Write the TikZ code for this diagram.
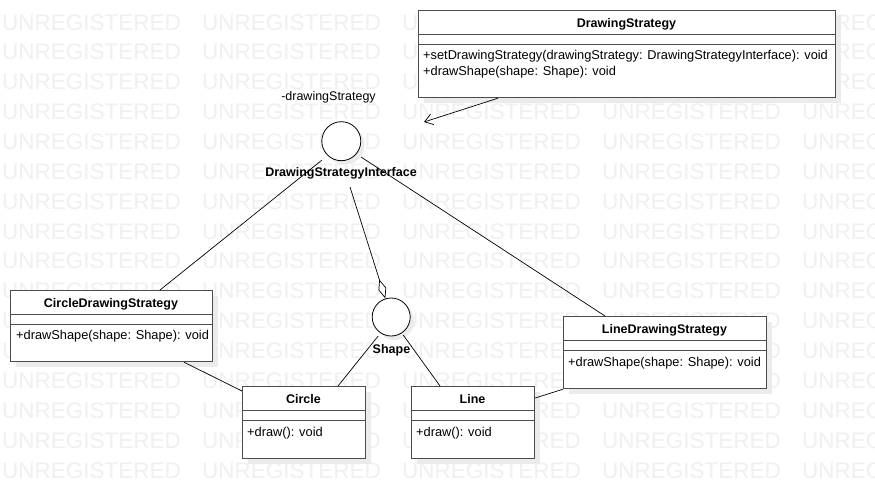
\documentclass[tikz,border=0pt]{standalone}
\usepackage{fontspec}
\setmainfont{Liberation Sans}
\usetikzlibrary{calc,arrows.meta}

\tikzset{
  wm/.style={text=black!6, font=\fontsize{22.5}{24}\selectfont, anchor=base west, inner sep=0pt},
  shadowfill/.style={fill=black!8},
  classbox/.style={draw=black!70, line width=1.2pt, fill=white, inner sep=0pt, anchor=north west},
  sepline/.style={draw=black!70, line width=1.2pt},
  cname/.style={font=\fontsize{12.5}{15}\selectfont\bfseries, inner sep=0pt, anchor=base},
  mtext/.style={font=\fontsize{12.8}{16}\selectfont, inner sep=0pt, anchor=base west},
  rtext/.style={font=\fontsize{12.5}{15}\selectfont, inner sep=0pt, anchor=base},
  conn/.style={draw=black, line width=0.7pt},
  iface/.style={circle, draw=black, line width=0.8pt, fill=white, minimum size=39pt, inner sep=0pt},
}

\newcommand\umlclass[6]{%
  \fill[shadowfill] ({#2+6},{#3+6}) rectangle ({#4+6},{#5+6});
  \node[classbox, minimum width={#4-#2}, minimum height={#5-#3}] (#1) at (#2,#3) {};
  \draw[sepline] ($(#1.north west)+(0,24.5)$) -- ($(#1.north east)+(0,24.5)$);
  \draw[sepline] ($(#1.north west)+(0,34.5)$) -- ($(#1.north east)+(0,34.5)$);
  \node[cname] (#1-title) at ({(#2+#4)/2},{#3+17}) {#6};
}

\begin{document}
\begin{tikzpicture}[x=1pt,y=-1pt]
\useasboundingbox (0,0) rectangle (875,498);
\fill[white] (0,0) rectangle (875,498);

% watermark
\begin{scope}
\clip (0,0) rectangle (875,498);
\foreach \r in {0,...,15}{\foreach \c in {0,...,4}{
  \node[wm] (wm-\r-\c) at ({2+200*\c},{30+29.87*\r}) {UNREGISTERED};
}}
\end{scope}

% classes
\umlclass{ds}{418}{10}{835}{97}{DrawingStrategy}
\node[mtext] (ds-m1) at (423,59.5) {+setDrawingStrategy(drawingStrategy: DrawingStrategyInterface): void};
\node[mtext] (ds-m2) at (423,75.5) {+drawShape(shape: Shape): void};

\umlclass{cds}{10}{290}{212}{361}{CircleDrawingStrategy}
\node[mtext] (cds-m1) at (16,339.5) {+drawShape(shape: Shape): void};

\umlclass{lds}{563}{316}{766}{388}{LineDrawingStrategy}
\node[mtext] (lds-m1) at (568,366.5) {+drawShape(shape: Shape): void};

\umlclass{circ}{242}{386}{365}{458}{Circle}
\node[mtext] (circ-m1) at (247,436.5) {+draw(): void};

\umlclass{line}{411}{386}{534}{458}{Line}
\node[mtext] (line-m1) at (416,436.5) {+draw(): void};

% interfaces (lollipop circles)
\fill[shadowfill] (345,145) circle (19.5);
\node[iface] (dsi) at (341.3,141.2) {};
\node[cname] (dsi-label) at (341,176.7) {DrawingStrategyInterface};

\fill[shadowfill] (395,321) circle (19);
\node[iface, minimum size=38pt] (shp) at (391.2,317) {};
\node[cname] (shp-label) at (391.5,353.4) {Shape};

\node[rtext] (role) at (328.5,100) {-drawingStrategy};

% association DrawingStrategy -> interface
\coordinate (assoc-end) at (424,122);
\draw[conn, -{Straight Barb[length=8pt,width=11pt]}] ($(ds.south west)+(80,0)$) -- (assoc-end);

% realizations of DrawingStrategyInterface
\draw[conn] ($(dsi)+(-19.5,19)$) -- ($(cds.north west)+(150,0)$);
\draw[conn] ($(dsi)+(19.7,15.8)$) -- ($(lds.north west)+(42,0)$);

% aggregation to Shape
\coordinate (agg-start) at (350,187);
\draw[conn, {Diamond[open,length=20pt,width=8pt]}-] (shp) -- (agg-start);

% realizations of Shape
\draw[conn] ($(shp)+(-13,19)$) -- ($(circ.north west)+(96,0)$);
\draw[conn] ($(shp)+(12,18)$) -- ($(line.north west)+(29,0)$);

% strategy to concrete shapes
\draw[conn] ($(cds.south west)+(174,0)$) -- ($(circ.north west)+(0,5)$);
\draw[conn] (lds.south west) -- ($(line.north east)+(0,12)$);
\end{tikzpicture}
\end{document}
